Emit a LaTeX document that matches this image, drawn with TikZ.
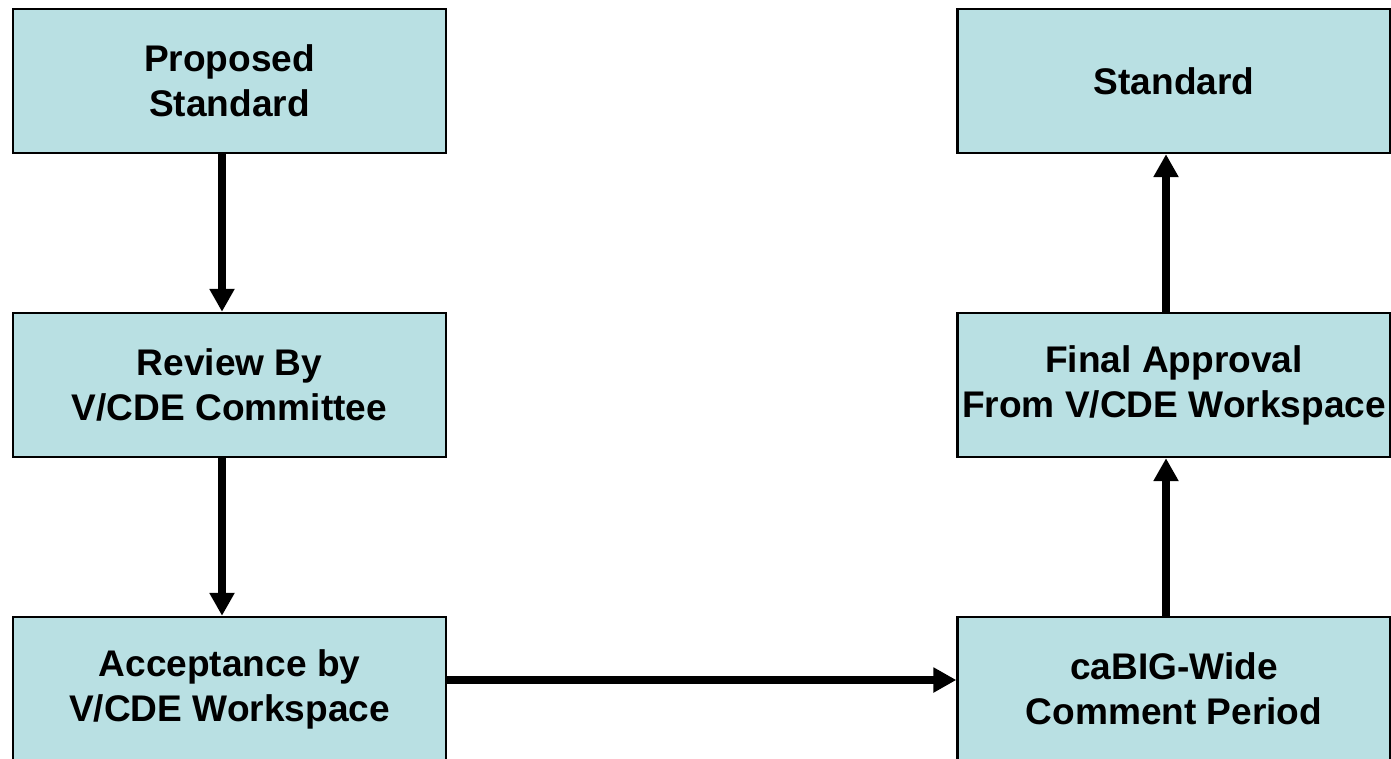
\documentclass[tikz,border=0pt]{standalone}
\usepackage{fontspec}
\setmainfont{Liberation Sans}
\usetikzlibrary{arrows.meta}
\definecolor{boxfill}{RGB}{185,224,227}

\begin{document}
\begin{tikzpicture}[x=0.02cm,y=-0.02cm]
\tikzstyle{every node} = [font=\bfseries\fontsize{21.1}{25.6}\selectfont,align=center]
\tikzstyle{stage} = [draw,line width=1.4pt,fill=boxfill,inner sep=0pt,minimum width=8.66cm,minimum height=2.88cm]
\tikzstyle{flow} = [line width=4.5pt,-{Triangle[length=13pt,width=13.5pt]}]
\useasboundingbox (0,0) rectangle (1391,759);
\path (229.5,81) node[stage] (proposed) {Proposed\\Standard}
		(229.5,385) node[stage] (review) {Review By\\V/CDE Committee}
		(229.5,689) node[stage] (accept) {Acceptance by\\V/CDE Workspace}
		(1174,689) node[stage] (comment) {caBIG-Wide\\Comment Period}
		(1174,385) node[stage] (approval) {Final Approval\\From V/CDE Workspace}
		(1174,81) node[stage] (standard) {Standard};

	\draw[flow] ([xshift=-0.15cm]proposed.south) -- ([xshift=-0.15cm]review.north);
	\draw[flow] ([xshift=-0.15cm]review.south) -- ([xshift=-0.15cm]accept.north);
	\draw[flow] ([yshift=0.18cm]accept.east) -- ([yshift=0.18cm]comment.west);
	\draw[flow] ([xshift=-0.16cm]comment.north) -- ([xshift=-0.16cm]approval.south);
	\draw[flow] ([xshift=-0.16cm]approval.north) -- ([xshift=-0.16cm]standard.south);
\end{tikzpicture}
\end{document}
